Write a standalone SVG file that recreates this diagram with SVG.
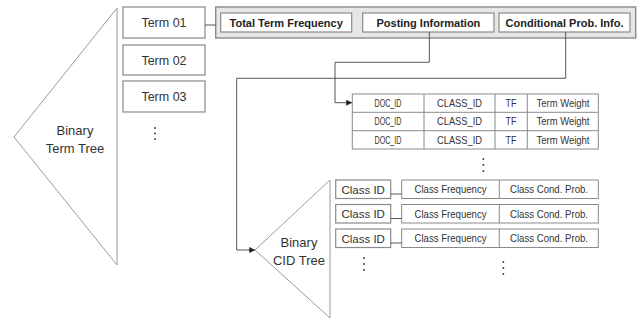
<svg xmlns="http://www.w3.org/2000/svg" width="641" height="320" viewBox="0 0 641 320">
  <style>
    .tri { fill: #ffffff; stroke: #9a9a9a; stroke-width: 1; }
    .box { fill: #ffffff; stroke: #8a8a8a; stroke-width: 1.2; }
    .panel { fill: #e6e6e6; stroke: #8a8a8a; stroke-width: 1.4; }
    .cell { fill: #ffffff; stroke: #8a8a8a; stroke-width: 1; }
    .wire { fill: none; stroke: #555555; stroke-width: 1; }
    .t { font-family: "Liberation Sans", Arial, sans-serif; fill: #333333; text-anchor: middle; }
    .big { font-size: 13px; }
    .term { font-size: 12.5px; }
    .hdr { font-size: 11px; font-weight: bold; fill: #222222; }
    .sm { font-size: 10.5px; }
    .cid { font-size: 11.5px; }
    .dot { fill: #444444; }
  </style>
  <defs>
    <marker id="arrow" viewBox="0 0 8 8" refX="7" refY="4" markerWidth="6" markerHeight="6" orient="auto" markerUnits="userSpaceOnUse">
      <path d="M0,0 L8,4 L0,8 z" fill="#222222"/>
    </marker>
  </defs>

  <!-- binary term tree -->
  <g id="term-tree">
    <polygon class="tri" points="117,8 14,137 117,265"/>
    <text class="t big" x="75" y="135">Binary</text>
    <text class="t big" x="75" y="153">Term Tree</text>
  </g>

  <!-- term list -->
  <g id="term01">
    <rect class="box" x="123" y="7" width="82" height="31"/>
    <text class="t term" x="164" y="27">Term 01</text>
  </g>
  <g id="term02">
    <rect class="box" x="123" y="45" width="82" height="30"/>
    <text class="t term" x="164" y="64.5">Term 02</text>
  </g>
  <g id="term03">
    <rect class="box" x="123" y="81" width="82" height="31"/>
    <text class="t term" x="164" y="101">Term 03</text>
  </g>
  <g id="term-more">
    <circle class="dot" cx="155" cy="128" r="1"/>
    <circle class="dot" cx="155" cy="133.5" r="1"/>
    <circle class="dot" cx="155" cy="139" r="1"/>
  </g>

  <!-- term record -->
  <g id="term-record">
    <rect class="panel" x="215.7" y="7" width="420" height="31"/>
    <rect class="box" x="220.7" y="13" width="131" height="19"/>
    <text class="t hdr" x="286.2" y="26.5">Total Term Frequency</text>
    <rect class="box" x="362.7" y="13" width="131.3" height="19"/>
    <text class="t hdr" x="428.4" y="26.5">Posting Information</text>
    <rect class="box" x="499" y="13" width="131" height="19"/>
    <text class="t hdr" x="564.5" y="26.5">Conditional Prob. Info.</text>
  </g>

  <!-- posting table -->
  <g id="posting-table">
    <rect class="cell" x="352.3" y="94" width="246" height="55"/>
    <line class="cell" x1="352.3" y1="112.3" x2="598.3" y2="112.3"/>
    <line class="cell" x1="352.3" y1="130.7" x2="598.3" y2="130.7"/>
    <line class="cell" x1="424" y1="94" x2="424" y2="149"/>
    <line class="cell" x1="495" y1="94" x2="495" y2="149"/>
    <line class="cell" x1="527.3" y1="94" x2="527.3" y2="149"/>
    <g class="t sm">
      <text x="388" y="107" textLength="27" lengthAdjust="spacingAndGlyphs">DOC_ID</text>
      <text x="459.5" y="107" textLength="45" lengthAdjust="spacingAndGlyphs">CLASS_ID</text>
      <text x="511" y="107" textLength="11" lengthAdjust="spacingAndGlyphs">TF</text>
      <text x="563" y="107" textLength="53" lengthAdjust="spacingAndGlyphs">Term Weight</text>
      <text x="388" y="125.3" textLength="27" lengthAdjust="spacingAndGlyphs">DOC_ID</text>
      <text x="459.5" y="125.3" textLength="45" lengthAdjust="spacingAndGlyphs">CLASS_ID</text>
      <text x="511" y="125.3" textLength="11" lengthAdjust="spacingAndGlyphs">TF</text>
      <text x="563" y="125.3" textLength="53" lengthAdjust="spacingAndGlyphs">Term Weight</text>
      <text x="388" y="143.7" textLength="27" lengthAdjust="spacingAndGlyphs">DOC_ID</text>
      <text x="459.5" y="143.7" textLength="45" lengthAdjust="spacingAndGlyphs">CLASS_ID</text>
      <text x="511" y="143.7" textLength="11" lengthAdjust="spacingAndGlyphs">TF</text>
      <text x="563" y="143.7" textLength="53" lengthAdjust="spacingAndGlyphs">Term Weight</text>
    </g>
    <circle class="dot" cx="483.3" cy="159" r="1"/>
    <circle class="dot" cx="483.3" cy="165" r="1"/>
    <circle class="dot" cx="483.3" cy="171" r="1"/>
  </g>

  <!-- binary CID tree -->
  <g id="cid-tree">
    <polygon class="tri" points="330,180 255,250 330,318"/>
    <text class="t big" x="299" y="247">Binary</text>
    <text class="t big" x="299" y="265">CID Tree</text>
  </g>

  <!-- class records -->
  <g id="class-row1">
    <rect class="box" x="335.7" y="180" width="55" height="18.5"/>
    <text class="t cid" x="363.2" y="193.5">Class ID</text>
    <rect class="cell" x="401.7" y="180" width="196.6" height="18.5"/>
    <line class="cell" x1="499.3" y1="180" x2="499.3" y2="198.5"/>
    <text class="t sm" x="450.5" y="193" textLength="72" lengthAdjust="spacingAndGlyphs">Class Frequency</text>
    <text class="t sm" x="549" y="193" textLength="78" lengthAdjust="spacingAndGlyphs">Class Cond. Prob.</text>
  </g>
  <g id="class-row2">
    <rect class="box" x="335.7" y="204.5" width="55" height="18.5"/>
    <text class="t cid" x="363.2" y="218">Class ID</text>
    <rect class="cell" x="401.7" y="204.5" width="196.6" height="18.5"/>
    <line class="cell" x1="499.3" y1="204.5" x2="499.3" y2="223"/>
    <text class="t sm" x="450.5" y="217.5" textLength="72" lengthAdjust="spacingAndGlyphs">Class Frequency</text>
    <text class="t sm" x="549" y="217.5" textLength="78" lengthAdjust="spacingAndGlyphs">Class Cond. Prob.</text>
  </g>
  <g id="class-row3">
    <rect class="box" x="335.7" y="229" width="55" height="18.5"/>
    <text class="t cid" x="363.2" y="242.5">Class ID</text>
    <rect class="cell" x="401.7" y="229" width="196.6" height="18.5"/>
    <line class="cell" x1="499.3" y1="229" x2="499.3" y2="247.5"/>
    <text class="t sm" x="450.5" y="242" textLength="72" lengthAdjust="spacingAndGlyphs">Class Frequency</text>
    <text class="t sm" x="549" y="242" textLength="78" lengthAdjust="spacingAndGlyphs">Class Cond. Prob.</text>
  </g>
  <g id="class-more">
    <circle class="dot" cx="364" cy="258" r="1"/>
    <circle class="dot" cx="364" cy="264" r="1"/>
    <circle class="dot" cx="364" cy="270" r="1"/>
    <circle class="dot" cx="503.3" cy="262" r="1"/>
    <circle class="dot" cx="503.3" cy="268" r="1"/>
    <circle class="dot" cx="503.3" cy="274" r="1"/>
  </g>

  <!-- connectors -->
  <g id="connectors">
    <line class="wire" x1="205" y1="25" x2="215.7" y2="25"/>
    <polyline class="wire" points="429.3,32 429.3,62.3 335,62.3 335,102.7 351.5,102.7" marker-end="url(#arrow)"/>
    <polyline class="wire" points="565.7,32 565.7,78.3 236.7,78.3 236.7,250 254.5,250" marker-end="url(#arrow)"/>
    <line class="wire" x1="390.7" y1="194" x2="401.7" y2="194"/>
    <line class="wire" x1="390.7" y1="218.5" x2="401.7" y2="218.5"/>
    <line class="wire" x1="390.7" y1="243" x2="401.7" y2="243"/>
  </g>
</svg>
